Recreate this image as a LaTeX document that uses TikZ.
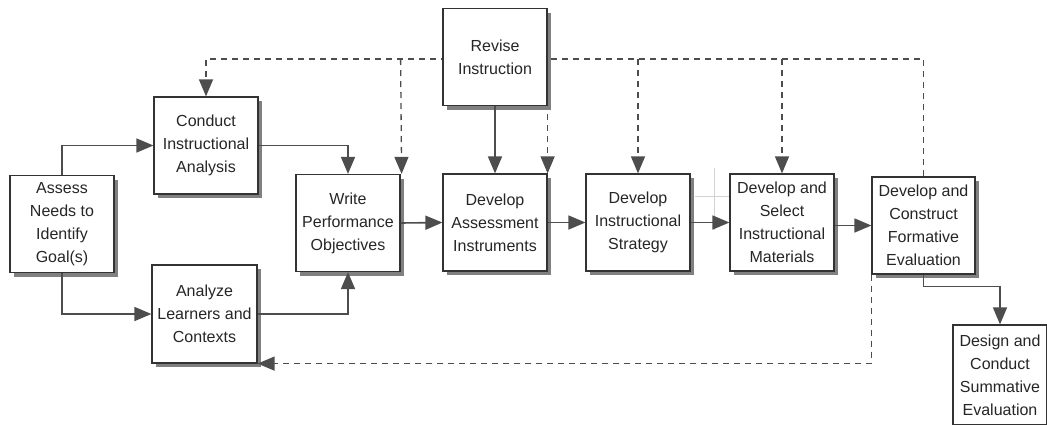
\documentclass[tikz,border=0pt]{standalone}
\usepackage{fontspec}
\setmainfont{Liberation Sans}
\usetikzlibrary{arrows.meta,shadows,calc}
\definecolor{boxc}{HTML}{333333}
\definecolor{linec}{HTML}{4D4D4D}
\definecolor{shc}{HTML}{808080}
\definecolor{txt}{HTML}{262626}
\begin{document}
\begin{tikzpicture}[x=1pt,y=-1pt,
  box/.style={draw=boxc, line width=1.2pt, fill=white, minimum width=104pt, minimum height=97pt,
    align=center, font=\fontsize{16}{23}\selectfont, text=txt, inner sep=0pt,
    drop shadow={shadow xshift=4pt, shadow yshift=-4pt, fill=shc, opacity=1}},
  conn/.style={draw=linec, line width=1.6pt, -{Triangle[length=17pt,width=14pt]}},
  fb/.style={draw=linec, line width=1.3pt, dash pattern=on 6pt off 5pt, -{Triangle[length=17pt,width=14pt]}},
  faint/.style={draw=gray!35, line width=0.6pt}]
\useasboundingbox (0,0) rectangle (1047,424);
% faint artefact lines
\draw[faint] (714,168) -- (714,230);
\draw[faint] (695,196) -- (734,196);
% nodes
\node[box] (assess) at (62,224) {Assess\\Needs to\\Identify\\Goal(s)};
\node[box] (conduct) at (206,145.5) {Conduct\\Instructional\\Analysis};
\node[box, minimum width=105pt, minimum height=98pt] (analyze) at (204.5,314) {Analyze\\Learners and\\Contexts};
\node[box] (write) at (348,223) {Write\\Performance\\Objectives};
\node[box] (devassess) at (495,222.5) {Develop\\Assessment\\Instruments};
\node[box] (strategy) at (638,222.5) {Develop\\Instructional\\Strategy};
\node[box] (materials) at (782,222.5) {Develop and\\Select\\Instructional\\Materials};
\node[box, minimum width=103pt] (formative) at (923.5,225.5) {Develop and\\Construct\\Formative\\Evaluation};
\node[box, minimum width=94pt, minimum height=100pt] (summative) at (1000,375) {Design and\\Conduct\\Summative\\Evaluation};
% feedback lines (top)
\coordinate (topy) at (0,59);
\draw[fb] (formative.north) -- (formative.north |- topy) -- (conduct.north |- topy) -- (conduct.north);
\draw[fb] (write.north east |- topy) -- ([xshift=1pt]write.north east);
\draw[fb] (devassess.north east |- topy) -- (devassess.north east);
\draw[fb] (strategy.north |- topy) -- (strategy.north);
\draw[fb] (materials.north |- topy) -- (materials.north);
% revise node covers the top dashed line
\node[box] (revise) at (495,57) {Revise\\Instruction};
\draw[conn] (revise.south) -- (devassess.north);
% bottom feedback
\draw[fb] (formative.south west) |- (analyze.south east);
% main flow
\draw[conn] (assess.north) |- (conduct.west);
\draw[conn] (assess.south) |- (analyze.west);
\draw[conn] (conduct.east) -| (write.north);
\draw[conn] (analyze.east) -| (write.south);
\draw[conn] (write.east) -- (devassess.west);
\draw[conn] (devassess.east) -- (strategy.west);
\draw[conn] (strategy.east) -- (materials.west);
\draw[conn] (materials.east |- formative.west) -- (formative.west);
\coordinate (fs) at ($(formative.south)+(0,12)$);
\draw[conn] (formative.south) -- (fs) -| (summative.north);
\end{tikzpicture}
\end{document}
